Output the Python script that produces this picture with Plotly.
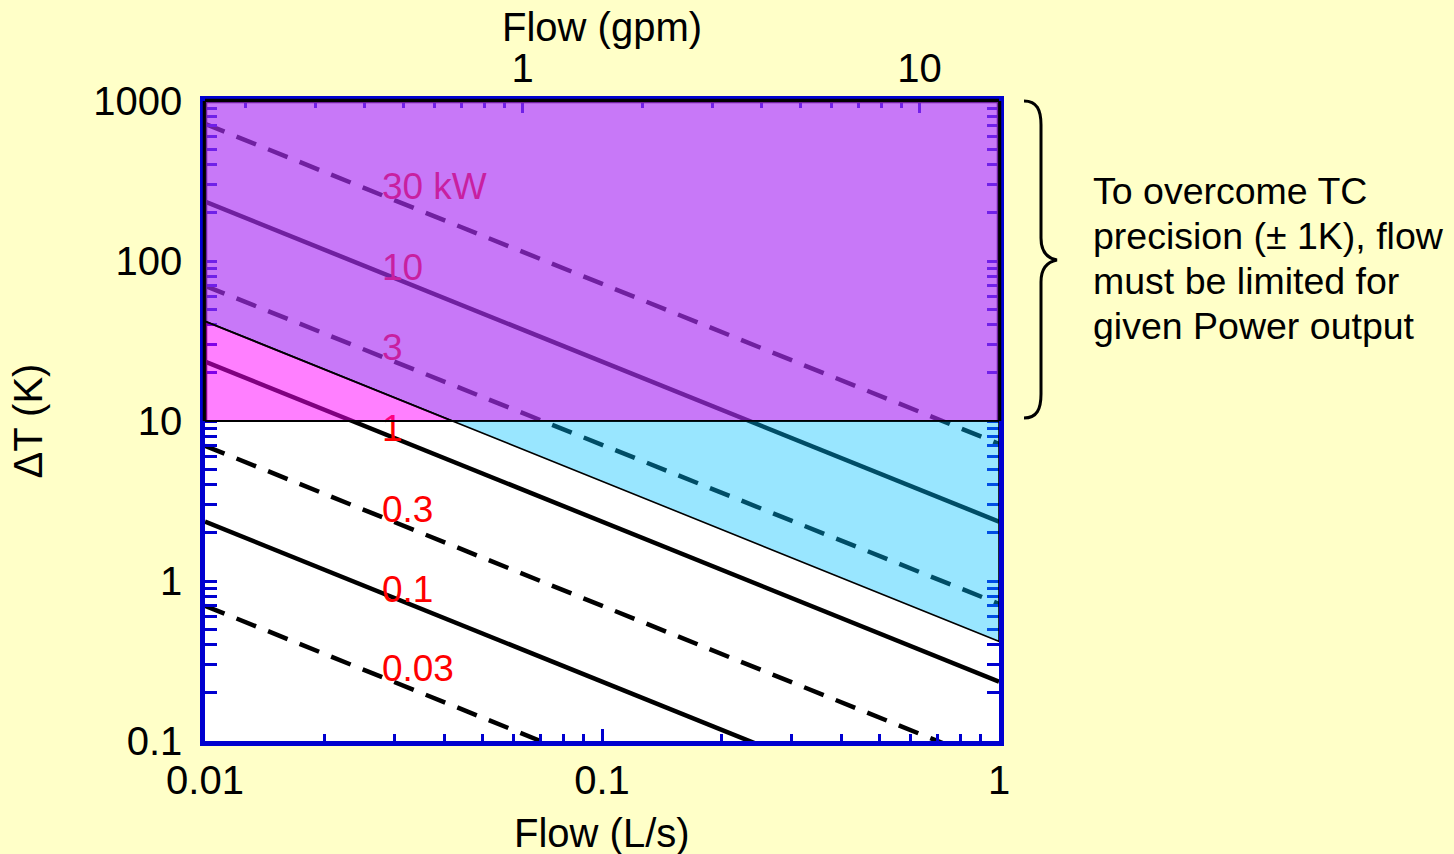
import numpy as np
import plotly.graph_objects as go

# ---------------- data ----------------
flow_ends = [0.01, 1.0]                      # L/s, left and right plot edges
power_labels = ["30 kW", "10", "3", "1", "0.3", "0.1", "0.03"]
dT_left = [720, 235, 70, 23.5, 7.0, 2.35, 0.70]     # K at 0.01 L/s
dT_right = [7.2, 2.35, 0.72, 0.235, 0.070, 0.0235, 0.0070]  # K at 1 L/s
line_dash = ["dash", "solid", "dash", "solid", "dash", "solid", "dash"]
label_y = [280, 87, 27.6, 8.6, 2.68, 0.84, 0.272]
label_x = 0.0279

limit_left = 42.0       # precision boundary line, K at 0.01 L/s
limit_right = 0.42      # K at 1 L/s
dT_limit = 10.0         # horizontal boundary, K

x_ticks = [0.01, 0.1, 1]
x_ticktext = ["0.01", "0.1", "1"]
y_ticks = [0.1, 1, 10, 100, 1000]
y_ticktext = ["0.1", "1", "10", "100", "1000"]
gpm_ticks = [1, 10]
gpm_ticktext = ["1", "10"]
gpm_range = [0.1585, 15.85]   # gpm equivalent of 0.01 .. 1 L/s

note_lines = ["To overcome TC", "precision (± 1K), flow",
              "must be limited for", "given Power output"]

# ---------------- styling ----------------
FONT = "Liberation Sans, Arial, sans-serif"
BG = "#ffffc8"
AXBLUE = "#0000d0"
FS_AX = 40
FS_LBL = 37
FS_NOTE = 37.5

PL, PR, PT, PB = 205, 999, 101, 741   # plot-area pixel box (from margins)

fig = go.Figure()

# power lines
for dl, dr, d in zip(dT_left, dT_right, line_dash):
    fig.add_trace(go.Scatter(
        x=flow_ends, y=[dl, dr], mode="lines",
        line=dict(color="black", width=4.5,
                  dash="21px,13px" if d == "dash" else "solid"),
        hoverinfo="skip", showlegend=False))

# labels (drawn under the translucent fills)
fig.add_trace(go.Scatter(
    x=[label_x] * len(power_labels), y=label_y, mode="text",
    text=power_labels, textposition="middle right",
    textfont=dict(family=FONT, size=FS_LBL, color="red"),
    hoverinfo="skip", showlegend=False))

# invisible trace to activate the top (gpm) axis
fig.add_trace(go.Scatter(x=gpm_range, y=[1, 1], xaxis="x2", yaxis="y",
                         mode="lines", line=dict(width=0), opacity=0,
                         hoverinfo="skip", showlegend=False))

# crossing of the precision boundary with the 10 K line (straight line in log-log)
slope = (np.log10(limit_right) - np.log10(limit_left)) / (np.log10(flow_ends[1]) - np.log10(flow_ends[0]))
x_cross = 10 ** (np.log10(flow_ends[0]) + (np.log10(dT_limit) - np.log10(limit_left)) / slope)

x0, x1 = flow_ends
y_bot, y_top = y_ticks[0], y_ticks[-1]

def data_path(xs, ys):
    pts = [f"{x:.6g},{y:.6g}" for x, y in zip(xs, ys)]
    return "M " + " L ".join(pts) + " Z"

# black outer frame of the shaded (>10 K) zone, drawn under the translucent fills
y10_paper = (np.log10(dT_limit) - np.log10(y_bot)) / (np.log10(y_top) - np.log10(y_bot))
for xa, ya, xb, yb in [(0, 1, 1, 1), (0, y10_paper, 0, 1), (1, y10_paper, 1, 1)]:
    fig.add_shape(type="line", xref="paper", yref="paper", x0=xa, y0=ya, x1=xb, y1=yb,
                  line=dict(color="black", width=4.5), layer="above")

# purple region: above boundary and above 10 K
fig.add_shape(type="path", xref="x", yref="y", layer="above",
              path=data_path([x0, x_cross, x1, x1, x0],
                             [limit_left, dT_limit, dT_limit, y_top, y_top]),
              fillcolor="rgba(171,49,244,0.655)", line=dict(color="black", width=1.8))
# pink region: below boundary, above 10 K
fig.add_shape(type="path", xref="x", yref="y", layer="above",
              path=data_path([x0, x_cross, x0], [limit_left, dT_limit, dT_limit]),
              fillcolor="rgba(255,0,255,0.5)", line=dict(color="black", width=1.8))
# cyan region: above boundary, below 10 K
fig.add_shape(type="path", xref="x", yref="y", layer="above",
              path=data_path([x_cross, x1, x1], [dT_limit, dT_limit, limit_right]),
              fillcolor="rgba(0,192,255,0.4)", line=dict(color="black", width=1.6))

def minor_vals(lo_exp, hi_exp):
    return [k * 10.0 ** e for e in range(lo_exp, hi_exp) for k in range(2, 10)]

tickfont = dict(family=FONT, size=FS_AX, color="black")

fig.update_layout(
    width=1454, height=854,
    paper_bgcolor=BG, plot_bgcolor="white",
    margin=dict(l=205, r=455, t=101, b=113),
    font=dict(family=FONT, size=FS_AX, color="black"),
    xaxis=dict(
        type="log", range=[np.log10(x0), np.log10(x1)],
        tickmode="array", tickvals=x_ticks, ticktext=x_ticktext,
        ticks="inside", ticklen=12, tickwidth=3, tickcolor=AXBLUE,
        minor=dict(tickmode="array", tickvals=minor_vals(-2, 0),
                   ticks="inside", ticklen=7, tickwidth=3, tickcolor=AXBLUE),
        showline=True, linecolor=AXBLUE, linewidth=4.5, mirror=True,
        showgrid=False, zeroline=False,
        tickfont=tickfont, ticklabelstandoff=0,
    ),
    xaxis2=dict(
        type="log", overlaying="x", side="top",
        range=[np.log10(gpm_range[0]), np.log10(gpm_range[1])],
        tickmode="array", tickvals=gpm_ticks, ticktext=gpm_ticktext,
        ticks="inside", ticklen=12, tickwidth=3, tickcolor=AXBLUE,
        minor=dict(tickmode="array", tickvals=minor_vals(-1, 2),
                   ticks="inside", ticklen=7, tickwidth=3, tickcolor=AXBLUE),
        showline=False, showgrid=False, zeroline=False,
        tickfont=tickfont, ticklabelstandoff=10,
    ),
    yaxis=dict(
        type="log", range=[np.log10(y_bot), np.log10(y_top)],
        tickmode="array", tickvals=y_ticks, ticktext=y_ticktext,
        ticks="inside", ticklen=12, tickwidth=3, tickcolor=AXBLUE,
        minor=dict(tickmode="array", tickvals=minor_vals(-1, 3),
                   ticks="inside", ticklen=7, tickwidth=3, tickcolor=AXBLUE),
        showline=True, linecolor=AXBLUE, linewidth=4.5, mirror="allticks",
        showgrid=False, zeroline=False,
        tickfont=tickfont, ticklabelstandoff=10,
        title=dict(text="ΔT (K)", font=dict(family=FONT, size=FS_AX), standoff=40),
    ),
)

# axis titles for the two flow axes
fig.add_annotation(x=0.5, y=(PB - 27) / (PB - PT), xref="paper", yref="paper",
                   text="Flow (gpm)", showarrow=False, xanchor="center", yanchor="middle",
                   font=dict(family=FONT, size=FS_AX, color="black"))
fig.add_annotation(x=0.5, y=(PB - 833) / (PB - PT), xref="paper", yref="paper",
                   text="Flow (L/s)", showarrow=False, xanchor="center", yanchor="middle",
                   font=dict(family=FONT, size=FS_AX, color="black"))

# brace (paper coordinates derived from pixel layout)
def px(xp, yp):
    return f"{(xp - PL) / (PR - PL):.4f},{(PB - yp) / (PB - PT):.4f}"
brace = (f"M {px(1024,101)} C {px(1037,101)} {px(1041,110)} {px(1041,125)} "
         f"L {px(1041,238)} C {px(1041,251)} {px(1046,258)} {px(1057,260)} "
         f"C {px(1046,262)} {px(1041,269)} {px(1041,282)} "
         f"L {px(1041,394)} C {px(1041,409)} {px(1037,418)} {px(1024,418)}")
fig.add_shape(type="path", path=brace, xref="paper", yref="paper",
              line=dict(color="black", width=3))

for i, line in enumerate(note_lines):
    fig.add_annotation(
        x=(1091 - PL) / (PR - PL), y=(PB - (191 + 45 * i)) / (PB - PT),
        xref="paper", yref="paper",
        text=line, showarrow=False, xanchor="left", yanchor="middle", align="left",
        font=dict(family=FONT, size=FS_NOTE, color="black"))

fig.write_html("out.html")
